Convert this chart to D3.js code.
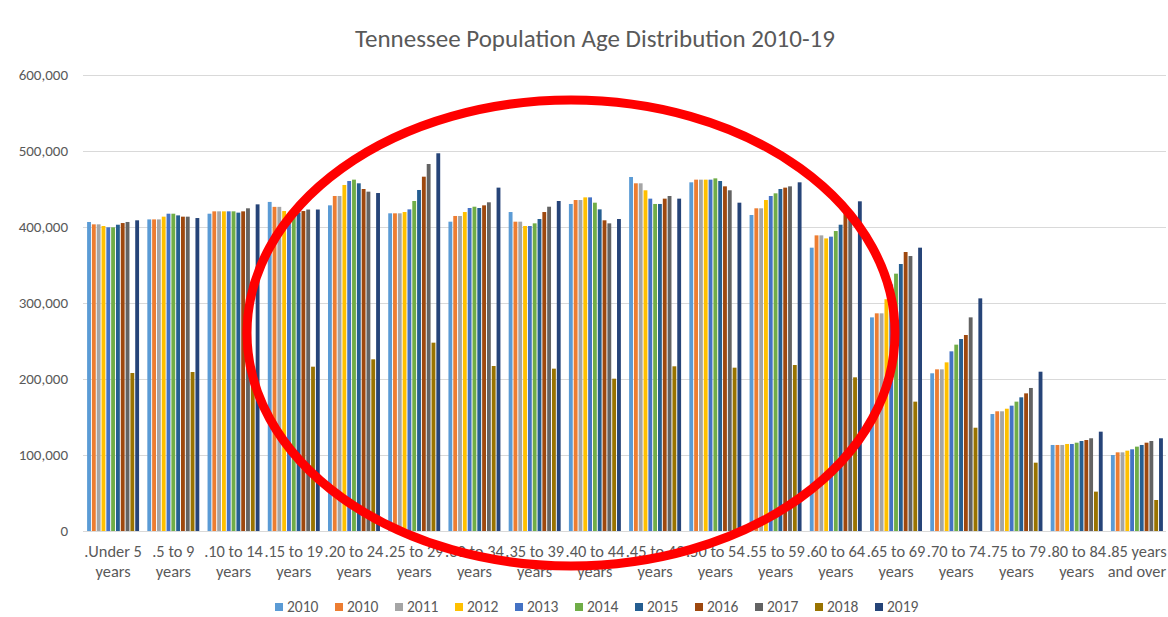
<!DOCTYPE html>
<html>
<head>
<meta charset="utf-8">
<script src="https://cdn.jsdelivr.net/npm/d3@7"></script>
<style>
  html, body { margin: 0; padding: 0; background: #fff; }
  svg { display: block; font-family: Calibri, Carlito, Lato, "Open Sans", sans-serif; }
</style>
</head>
<body>
<svg id="chart" width="1168" height="617"></svg>
<script>
// === Data ===
const categories = [
    '.Under 5 years', '.5 to 9 years', '.10 to 14 years', '.15 to 19 years',
    '.20 to 24 years', '.25 to 29 years', '.30 to 34 years', '.35 to 39 years',
    '.40 to 44 years', '.45 to 49 years', '.50 to 54 years', '.55 to 59 years',
    '.60 to 64 years', '.65 to 69 years', '.70 to 74 years', '.75 to 79 years',
    '.80 to 84 years', '.85 years and over'
];

const seriesNames = ['2010', '2010', '2011', '2012', '2013', '2014', '2015', '2016', '2017', '2018', '2019'];
const seriesColors = ['#5B9BD5', '#ED7D31', '#A5A5A5', '#FFC000', '#4472C4', '#70AD47',
                      '#255E91', '#9E480E', '#636363', '#997300', '#264478'];

const v2010a = [406600, 410000, 417500, 433000, 428500, 418000, 407000, 419700, 430300, 465800, 458800, 415800, 372800, 281100, 207500, 153900, 113200, 100000];
const v2010b = [403500, 410000, 420600, 426500, 440800, 418000, 414500, 407000, 435500, 457500, 462300, 424600, 389000, 286400, 212700, 157500, 113200, 103500];
const v2011  = [403500, 410000, 420600, 426500, 440800, 418000, 414500, 407000, 435500, 457500, 462300, 424600, 389000, 286400, 212700, 157500, 113200, 103500];
const v2012  = [401300, 413600, 420600, 421000, 455300, 419700, 419700, 401300, 439000, 448300, 462300, 435500, 385000, 305000, 221900, 160900, 114500, 105700];
const v2013  = [399600, 417500, 420600, 417000, 460500, 423200, 425000, 401300, 439000, 437300, 462300, 440800, 387300, 324400, 236400, 164900, 114500, 107500];
const v2014  = [399600, 417500, 420600, 414000, 462300, 434200, 426700, 404800, 432000, 430300, 464000, 444300, 394700, 338600, 245200, 170200, 116200, 111000];
const v2015  = [403000, 415300, 418900, 419000, 457500, 448700, 425000, 410500, 423200, 430300, 460500, 450000, 403000, 351300, 252600, 175900, 118400, 113200];
const v2016  = [405200, 413600, 420600, 421000, 450000, 466200, 428500, 419700, 408800, 437300, 453500, 451800, 421000, 367100, 257900, 181100, 119700, 116200];
const v2017  = [406600, 413600, 424600, 423000, 446500, 482900, 432500, 426700, 404800, 440800, 448300, 453500, 420500, 361800, 281100, 188200, 122000, 118400];
const v2018  = [207900, 209200, 216000, 216200, 225900, 247800, 217100, 213600, 200400, 216700, 214900, 218400, 202200, 170200, 135900, 89900, 51800, 40800];
const v2019  = [408800, 411800, 429800, 423000, 444700, 497000, 451800, 434200, 410500, 437300, 432000, 458800, 433800, 372800, 306100, 209600, 130700, 122000];

const seriesValues = [v2010a, v2010b, v2011, v2012, v2013, v2014, v2015, v2016, v2017, v2018, v2019];
const yTicks = [0, 100000, 200000, 300000, 400000, 500000, 600000];

// === Layout ===
const svg = d3.select('#chart');
const margin = { left: 83, right: 1, top: 75, bottom: 86 };
const width = 1168, height = 617;
const textColor = '#595959';

const x0 = d3.scaleBand()
    .domain(d3.range(categories.length))
    .range([margin.left, width - margin.right])
    .paddingInner(0.137)
    .paddingOuter(0.068);

const x1 = d3.scaleBand()
    .domain(d3.range(seriesNames.length))
    .range([0, x0.bandwidth()])
    .paddingInner(0.2);

const y = d3.scaleLinear()
    .domain([0, 600000])
    .range([height - margin.bottom, margin.top]);

// Title
svg.append('text')
    .attr('x', 595)
    .attr('y', 47)
    .attr('text-anchor', 'middle')
    .attr('font-size', 25)
    .attr('fill', textColor)
    .text('Tennessee Population Age Distribution 2010-19');

// Gridlines + y labels
const yAxis = d3.axisLeft(y)
    .tickValues(yTicks)
    .tickSize(-(width - margin.left - margin.right - 1))
    .tickPadding(15)
    .tickFormat(d => d === 0 ? '0' : d3.format(',')(d));

const gy = svg.append('g')
    .attr('transform', `translate(${margin.left},0)`)
    .call(yAxis);
gy.select('.domain').remove();
gy.selectAll('.tick line').attr('stroke', '#D9D9D9').attr('stroke-width', 1.2);
gy.selectAll('.tick text')
    .attr('fill', textColor)
    .attr('font-size', 15)
    .attr('font-family', 'Calibri, Carlito, Lato, sans-serif');

// Bars
const groups = svg.append('g')
    .selectAll('g')
    .data(categories)
    .join('g')
    .attr('transform', (d, i) => `translate(${x0(i)},0)`);

groups.selectAll('rect')
    .data((d, i) => seriesValues.map((vals, s) => ({ s, v: vals[i] })))
    .join('rect')
    .attr('x', d => x1(d.s))
    .attr('y', d => y(d.v))
    .attr('width', x1.bandwidth())
    .attr('height', d => y(0) - y(d.v))
    .attr('fill', d => seriesColors[d.s]);

// Category labels (two lines, Excel-style wrap)
const catLabels = svg.append('g');
categories.forEach((c, i) => {
    const m = c.match(/^(.*?)\s(years|and over)$/);
    const lines = m ? [m[1], m[2]] : [c];
    const t = catLabels.append('text')
        .attr('text-anchor', 'middle')
        .attr('font-size', 16.4)
        .attr('fill', textColor);
    lines.forEach((ln, k) => {
        t.append('tspan')
            .attr('x', x0(i) + x0.bandwidth() / 2)
            .attr('y', 557 + k * 20)
            .text(ln);
    });
});

// Legend
const legend = svg.append('g');
const legendStart = 275, legendStep = 60;
seriesNames.forEach((name, s) => {
    const lx = legendStart + s * legendStep;
    legend.append('rect')
        .attr('x', lx)
        .attr('y', 603)
        .attr('width', 8)
        .attr('height', 8)
        .attr('fill', seriesColors[s]);
    legend.append('text')
        .attr('x', lx + 12)
        .attr('y', 612)
        .attr('font-size', 15.5)
        .attr('fill', textColor)
        .text(name);
});

// Red hand-drawn ellipse annotation
svg.append('ellipse')
    .attr('cx', 571)
    .attr('cy', 333)
    .attr('rx', 324)
    .attr('ry', 233)
    .attr('fill', 'none')
    .attr('stroke', '#FF0000')
    .attr('stroke-width', 9);
</script>
</body>
</html>
